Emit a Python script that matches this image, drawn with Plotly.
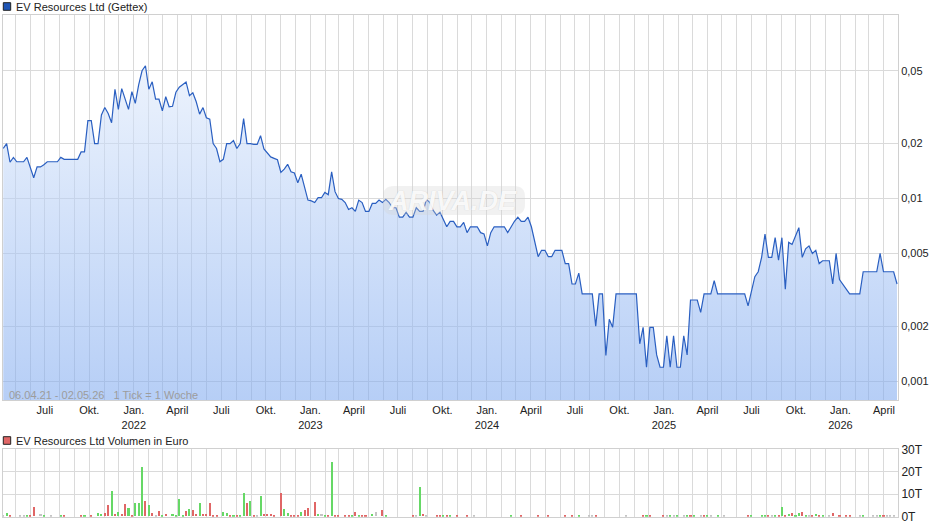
import plotly.graph_objects as go
import pandas as pd

# ---------------- data ----------------
start_date = "2021-04-06"          # first weekly tick (1 Tick = 1 Woche)

price = [
    0.0188, 0.020, 0.0158, 0.0168, 0.0159, 0.0159, 0.0159, 0.0168, 0.0149, 0.0130,
    0.0149, 0.0149, 0.0153, 0.0159, 0.0159, 0.0159, 0.0159, 0.0168, 0.0164, 0.0164,
    0.0164, 0.0164, 0.0164, 0.0180, 0.0180, 0.0267, 0.0267, 0.020, 0.020, 0.0287,
    0.0315, 0.0292, 0.0260, 0.0397, 0.0308, 0.0400, 0.0354, 0.0308, 0.0385, 0.0332,
    0.0419, 0.0501, 0.0534, 0.0397, 0.0436, 0.0350, 0.0350, 0.0302, 0.0361, 0.0318,
    0.0320, 0.0382, 0.0407, 0.0420, 0.0435, 0.0366, 0.0380, 0.0339, 0.0290, 0.0315,
    0.0277, 0.0272, 0.020, 0.0188, 0.0159, 0.0164, 0.020, 0.020, 0.0208, 0.0188,
    0.020, 0.0274, 0.020, 0.020, 0.0198, 0.0198, 0.0221, 0.0187, 0.0177, 0.0169,
    0.0166, 0.0163, 0.0139, 0.0145, 0.0154, 0.0140, 0.0138, 0.0122, 0.0136, 0.0115,
    0.0098, 0.0097, 0.0095, 0.0101, 0.0101, 0.0108, 0.0105, 0.0140, 0.0109, 0.0100,
    0.0099, 0.0095, 0.0087, 0.0089, 0.0085, 0.0098, 0.0095, 0.0085, 0.0085, 0.0094,
    0.0094, 0.0098, 0.0095, 0.0099, 0.0095, 0.0089, 0.0089, 0.0079, 0.0079, 0.0084,
    0.0079, 0.0079, 0.0089, 0.0085, 0.0085, 0.0099, 0.0095, 0.0086, 0.0081, 0.0084,
    0.0076, 0.0070, 0.0075, 0.0075, 0.0070, 0.0070, 0.0074, 0.0065, 0.0070, 0.0070,
    0.0070, 0.0065, 0.0064, 0.0055, 0.0065, 0.0070, 0.0070, 0.0070, 0.0070, 0.0065,
    0.0070, 0.0075, 0.0079, 0.0075, 0.0075, 0.0079, 0.0070, 0.0059, 0.0048, 0.0052,
    0.0052, 0.0048, 0.0048, 0.0052, 0.0052, 0.0052, 0.0044, 0.0044, 0.0034, 0.0034,
    0.0039, 0.0030, 0.0030, 0.0030, 0.0030, 0.0020, 0.0030, 0.0030, 0.00138, 0.00218,
    0.00197, 0.0030, 0.0030, 0.0030, 0.0030, 0.0030, 0.0030, 0.0030, 0.0016, 0.00197,
    0.00119, 0.00197, 0.00197, 0.00139, 0.00119, 0.00119, 0.00177, 0.00119, 0.00177, 0.00119,
    0.00119, 0.00177, 0.00139, 0.00278, 0.00278, 0.00278, 0.00238, 0.0030, 0.0030, 0.0030,
    0.00355, 0.0030, 0.0030, 0.0030, 0.0030, 0.0030, 0.0030, 0.0030, 0.0030, 0.0030,
    0.00258, 0.0031, 0.00373, 0.00397, 0.00476, 0.00639, 0.00476, 0.00476, 0.0061, 0.0046,
    0.0061, 0.00318, 0.00575, 0.0056, 0.0063, 0.00692, 0.00476, 0.0053, 0.0055, 0.0050,
    0.0052, 0.0044, 0.00456, 0.00456, 0.00456, 0.0034, 0.0050, 0.0036, 0.0034, 0.00318,
    0.0030, 0.0030, 0.0030, 0.0030, 0.00397, 0.00397, 0.00397, 0.00397, 0.00397, 0.0050,
    0.00397, 0.00397, 0.00397, 0.00397, 0.0034,
]

# volume (thousand EUR) for the weeks that traded; week number counted from start_date
vol_week = [
    0, 1, 2, 5, 6, 7, 8, 9, 11, 12,
    14, 17, 18, 23, 24, 26, 28, 29, 30, 31,
    32, 33, 34, 35, 36, 37, 38, 39, 40, 41,
    42, 43, 44, 45, 46, 47, 48, 50, 51, 52,
    53, 54, 55, 56, 57, 58, 59, 60, 61, 62,
    63, 65, 66, 67, 68, 69, 70, 71, 72, 73,
    74, 75, 76, 77, 78, 79, 80, 82, 83, 84,
    85, 86, 87, 88, 89, 90, 92, 93, 94, 95,
    96, 97, 98, 99, 101, 102, 103, 104, 105, 106,
    107, 109, 110, 112, 113, 121, 122, 123, 124, 125,
    128, 129, 130, 131, 132, 134, 137, 139, 150, 153,
    158, 161, 166, 168, 170, 173, 174, 175, 184, 189,
    190, 191, 195, 196, 197, 198, 199, 201, 202, 203,
    204, 206, 207, 208, 209, 211, 213, 220, 221, 224,
    225, 226, 227, 228, 229, 230, 231, 232, 233, 234,
    235, 236, 237, 238, 239, 240, 241, 242, 244, 245,
    247, 249, 250, 253, 254, 257, 258, 259, 260, 261,
    262, 263,
]
vol_k = [
    0.7, 1.5, 0.3, 0.6, 0.6, 0.6, 0.3, 4.2, 1.2, 0.6,
    0.2, 0.3, 0.3, 0.6, 0.6, 0.6, 1.5, 1.2, 1.5, 5.1,
    11.5, 1.2, 2.1, 1.2, 5.7, 3.9, 0.3, 6.1, 6.1, 21.8,
    7.0, 5.2, 1.6, 0.7, 2.5, 0.7, 1.2, 1.2, 0.7, 7.9,
    0.7, 2.5, 3.4, 3.0, 1.2, 6.1, 1.2, 1.2, 6.1, 0.7,
    0.4, 2.1, 1.6, 0.7, 0.3, 0.7, 0.7, 10.6, 6.1, 6.7,
    0.7, 0.3, 9.2, 1.2, 1.2, 1.2, 0.3, 10.6, 3.4, 1.6,
    0.7, 0.7, 0.3, 2.1, 3.0, 3.9, 6.6, 1.2, 1.2, 0.3,
    0.3, 24.4, 0.3, 0.7, 0.3, 0.7, 0.7, 2.1, 0.7, 0.3,
    0.3, 1.2, 2.1, 3.0, 0.3, 0.3, 0.3, 13.1, 1.2, 0.3,
    0.3, 0.7, 0.7, 0.3, 0.7, 0.3, 0.7, 0.3, 0.3, 0.3,
    0.7, 0.7, 0.3, 0.3, 0.3, 0.3, 0.3, 0.3, 0.3, 0.3,
    0.3, 0.3, 0.7, 0.3, 0.3, 0.3, 0.7, 0.3, 0.3, 0.3,
    0.7, 0.7, 0.7, 0.3, 0.3, 0.3, 0.3, 0.3, 0.3, 0.3,
    0.3, 0.3, 0.7, 0.7, 0.7, 4.2, 0.3, 1.2, 1.6, 0.7,
    1.6, 2.1, 0.7, 0.3, 0.7, 1.2, 0.3, 0.7, 0.7, 1.6,
    0.3, 0.7, 0.3, 0.7, 0.3, 0.3, 0.3, 0.7, 0.7, 0.7,
    0.3, 0.3,
]
# u = price up (green), d = price down (red), n = unchanged (grey)
vol_dir = "".join([
    "nudnnuddnu", "nudduduudd", "ududduduuu", "dudnduduuu", "ududdudddd",
    "duududuudu", "dnuddddduu", "dddudddunu", "duddddudud", "dundudnudn",
    "ddududdnud", "ddddunndnd", "uddnununud", "undununduu", "udnudududu",
    "udundudund", "dddnunnudn", "nn",
])

tick_dates = ["2021-07-01", "2021-10-01", "2022-01-01", "2022-04-01", "2022-07-01",
              "2022-10-01", "2023-01-01", "2023-04-01", "2023-07-01", "2023-10-01",
              "2024-01-01", "2024-04-01", "2024-07-01", "2024-10-01", "2025-01-01",
              "2025-04-01", "2025-07-01", "2025-10-01", "2026-01-01", "2026-04-01"]
tick_labels = ["Juli", "Okt.", "Jan.<br>2022", "April", "Juli", "Okt.", "Jan.<br>2023",
               "April", "Juli", "Okt.", "Jan.<br>2024", "April", "Juli", "Okt.",
               "Jan.<br>2025", "April", "Juli", "Okt.", "Jan.<br>2026", "April"]

price_ticks = [0.001, 0.002, 0.005, 0.01, 0.02, 0.05]
price_labels = ["0,001", "0,002", "0,005", "0,01", "0,02", "0,05"]
vol_ticks = [0, 10, 20, 30]
vol_labels = ["0T", "10T", "20T", "30T"]

# ---------------- build ----------------
t0 = pd.Timestamp(start_date)
dates = [t0 + pd.Timedelta(weeks=i) for i in range(len(price))]
vol_dates = [t0 + pd.Timedelta(weeks=w) for w in vol_week]
dir_colors = {"u": "#66d866", "d": "#e06666", "n": "#c4c4c4"}
vol_colors = [dir_colors[c] for c in vol_dir]

FONT = "Liberation Sans, Arial, sans-serif"
GRID = "#dadada"
W, H = 940, 526
xd = [3 / W, 898 / W]
y_lo, y_hi = 10 ** -3.104, 10 ** -0.9945

fig = go.Figure()
fig.add_trace(go.Scatter(
    x=dates, y=price, mode="lines",
    line=dict(color="#2a5fc1", width=1.2),
    fill="tozeroy",
    fillgradient=dict(type="vertical", start=y_lo, stop=y_hi,
                      colorscale=[[0, "rgba(125,168,239,0.56)"],
                                  [1, "rgba(236,243,253,0.56)"]]),
    hoverinfo="skip", xaxis="x", yaxis="y"))
fig.add_trace(go.Bar(
    x=vol_dates, y=vol_k, marker=dict(color=vol_colors, line=dict(width=0)),
    width=3.7e8, xaxis="x2", yaxis="y2", hoverinfo="skip"))

common_x = dict(type="date", range=["2021-04-05 12:00", "2026-04-30"],
                showgrid=True, gridcolor=GRID, gridwidth=1, zeroline=False,
                showline=True, linecolor="#d0d0d0", linewidth=1, mirror=True,
                ticks="", tickvals=tick_dates, automargin=False,
                minor=dict(dtick="M1", tick0="2021-05-01", showgrid=True,
                           gridcolor=GRID, gridwidth=1, ticks=""))

fig.update_layout(
    width=W, height=H, margin=dict(l=0, r=0, t=0, b=0, pad=0, autoexpand=False),
    paper_bgcolor="white", plot_bgcolor="white", showlegend=False,
    font=dict(family=FONT, size=11, color="#222"),
    bargap=0,
    xaxis=dict(domain=xd, anchor="y", ticktext=tick_labels,
               tickfont=dict(size=11, color="#222"), **common_x),
    yaxis=dict(domain=[1 - 400 / H, 1 - 15 / H], anchor="x", type="log",
               range=[-3.104, -0.9945], side="right", automargin=False,
               tickvals=price_ticks, ticktext=price_labels, ticks="",
               tickfont=dict(size=11, color="#222"),
               showgrid=True, gridcolor=GRID, zeroline=False,
               showline=True, linecolor="#d0d0d0", mirror=True),
    xaxis2=dict(domain=xd, anchor="y2", matches="x", showticklabels=False,
                **common_x),
    yaxis2=dict(domain=[1 - 516.7 / H, 1 - 449.3 / H], anchor="x2",
                range=[0, 30], side="right", automargin=False,
                tickvals=vol_ticks, ticktext=vol_labels, ticks="",
                tickfont=dict(size=12, color="#222"),
                showgrid=True, gridcolor=GRID, zeroline=False,
                showline=True, linecolor="#d0d0d0", mirror=True),
)

# legend squares
fig.add_shape(type="rect", xref="paper", yref="paper",
              x0=3.3 / W, x1=10.7 / W, y0=1 - 10.3 / H, y1=1 - 2.7 / H,
              fillcolor="#1f55b5", line=dict(color="#222", width=1))
fig.add_shape(type="rect", xref="paper", yref="paper",
              x0=3.3 / W, x1=10.7 / W, y0=1 - 444.3 / H, y1=1 - 436.7 / H,
              fillcolor="#e06666", line=dict(color="#222", width=1))

# rounded watermark plate
bx0, bx1, by0, by1, rad = 383, 525, 186, 215, 11
X = lambda px: px / W
Y = lambda py: 1 - py / H
plate = (f"M {X(bx0 + rad)},{Y(by0)} L {X(bx1 - rad)},{Y(by0)} "
         f"Q {X(bx1)},{Y(by0)} {X(bx1)},{Y(by0 + rad)} L {X(bx1)},{Y(by1 - rad)} "
         f"Q {X(bx1)},{Y(by1)} {X(bx1 - rad)},{Y(by1)} L {X(bx0 + rad)},{Y(by1)} "
         f"Q {X(bx0)},{Y(by1)} {X(bx0)},{Y(by1 - rad)} L {X(bx0)},{Y(by0 + rad)} "
         f"Q {X(bx0)},{Y(by0)} {X(bx0 + rad)},{Y(by0)} Z")
fig.add_shape(type="path", path=plate, xref="paper", yref="paper",
              fillcolor="rgba(210,210,210,0.32)", line=dict(width=0))

fig.add_annotation(text="EV Resources Ltd (Gettex)", xref="paper", yref="paper",
                   x=13.5 / W, y=1 - 6.6 / H, xanchor="left", yanchor="middle",
                   showarrow=False, font=dict(size=11, color="#222", family=FONT))
fig.add_annotation(text="EV Resources Ltd Volumen in Euro", xref="paper", yref="paper",
                   x=13.5 / W, y=1 - 440.5 / H, xanchor="left", yanchor="middle",
                   showarrow=False, font=dict(size=11, color="#222", family=FONT))
fig.add_annotation(text="06.04.21 - 02.05.26&nbsp;&nbsp; 1 Tick = 1 Woche",
                   xref="paper", yref="paper", x=7 / W, y=1 - 395 / H,
                   xanchor="left", yanchor="middle", showarrow=False,
                   font=dict(size=11, color="#9c9c9c", family=FONT))
fig.add_annotation(text="<b><i>ARIVA.DE</i></b>", xref="paper", yref="paper",
                   x=452 / W, y=1 - 200.5 / H, xanchor="center", yanchor="middle",
                   showarrow=False,
                   font=dict(size=27, color="rgba(255,255,255,0.9)", family=FONT,
                             shadow="0px 0px 1px rgba(150,150,150,0.45)"))

page_fix = (
    "document.documentElement.style.margin='0';"
    "document.documentElement.style.overflow='hidden';"
    "document.body.style.margin='0';"
    "document.body.style.overflow='hidden';"
    "var gd=document.getElementById('{plot_id}');"
    "gd.style.position='fixed';gd.style.top='0px';gd.style.left='0px';"
)
fig.write_html(
    "out.html",
    config={"responsive": False, "displayModeBar": False},
    post_script=page_fix,
)
